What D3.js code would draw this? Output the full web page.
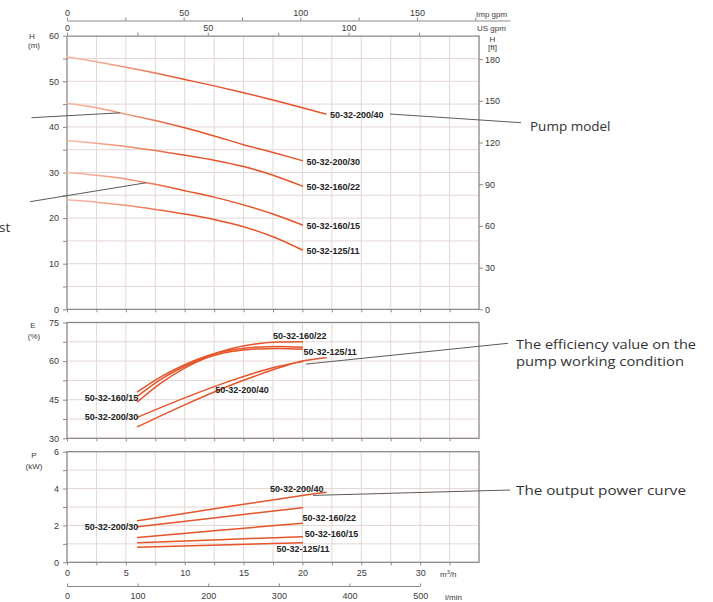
<!DOCTYPE html>
<html><head><meta charset="utf-8">
<script src="https://cdn.jsdelivr.net/npm/d3@7"></script>
<style>
body{margin:0;background:#fff}
svg{display:block}
.tk text{font-family:"Liberation Sans",Arial,sans-serif;font-size:9px;fill:#3a3a3a}
.lbl{font-family:"Liberation Sans",Arial,sans-serif;font-size:9px;font-weight:bold;fill:#222}
.note{font-family:"Open Sans",sans-serif;font-size:13.5px;fill:#333}
.unit{font-family:"Liberation Sans",Arial,sans-serif;font-size:8px;fill:#3a3a3a}
</style>
</head><body>
<svg id="c" width="713" height="602"></svg>
<script>
// ---------- data ----------
const models = ["50-32-200/40", "50-32-200/30", "50-32-160/22", "50-32-160/15", "50-32-125/11"];

// head H (m) against flow Q (m³/h)
const headQ        = [0, 2.5, 5, 7.5, 10, 12.5, 15, 17.5, 20];
const headQ_200_40 = [0, 2.5, 5, 7.5, 10, 12.5, 15, 17.5, 20, 22];
const head_200_40  = [55.4, 54.3, 53.1, 51.8, 50.4, 49.0, 47.5, 45.9, 44.2, 42.8];
const head_200_30  = [45.2, 44.2, 42.8, 41.4, 39.8, 38.0, 36.1, 34.4, 32.6];
const head_160_22  = [37.0, 36.4, 35.7, 34.8, 33.8, 32.7, 31.3, 29.4, 27.0];
const head_160_15  = [30.0, 29.4, 28.6, 27.4, 26.0, 24.6, 22.9, 20.9, 18.5];
const head_125_11  = [24.0, 23.5, 22.8, 21.9, 20.9, 19.7, 18.1, 15.9, 13.0];

// efficiency E (%)
const effQ        = [6, 8, 10, 12, 14, 16, 18, 20];
const effQ_200_40 = [6, 8, 10, 12, 14, 16, 18, 20, 22];
const eff_200_40  = [34.5, 38.8, 43.0, 47.0, 50.8, 54.2, 57.4, 60.0, 61.3];
const eff_200_30  = [38.2, 42.0, 45.7, 49.2, 52.5, 55.5, 58.0, 59.8];
const eff_160_22  = [46.4, 53.0, 58.0, 62.0, 64.9, 66.6, 67.4, 67.5];
const eff_160_15  = [48.1, 54.0, 58.6, 62.2, 64.3, 65.4, 65.7, 65.4];
const eff_125_11  = [44.2, 51.5, 57.3, 61.5, 63.7, 64.7, 64.9, 64.6];

// output power P (kW)
const powQ        = [6, 13, 20];
const powQ_200_40 = [6, 14, 21, 22];
const pow_200_40  = [2.26, 3.05, 3.72, 3.80];
const pow_200_30  = [1.93, 2.45, 2.96];
const pow_160_22  = [1.34, 1.74, 2.12];
const pow_160_15  = [1.06, 1.23, 1.39];
const pow_125_11  = [0.81, 0.94, 1.06];

// axis ticks
const flowTicks   = [0, 5, 10, 15, 20, 25, 30];
const headTicks   = [0, 10, 20, 30, 40, 50, 60];
const headFtTicks = [0, 30, 60, 90, 120, 150, 180];
const effTicks    = [30, 45, 60, 75];
const powTicks    = [0, 2, 4, 6];
const lminTicks   = [0, 100, 200, 300, 400, 500];
const usGpmTicks  = [0, 50, 100];
const impGpmTicks = [0, 50, 100, 150];

// ---------- layout ----------
const svg = d3.select("#c");
const x    = d3.scaleLinear().domain([0, 35]).range([67, 479]);
const yH   = d3.scaleLinear().domain([0, 60]).range([309.3, 35.7]);
const yFt  = d3.scaleLinear().domain([0, 60 * 3.28084]).range([309.3, 35.7]);
const yE   = d3.scaleLinear().domain([30, 75]).range([438.3, 322.5]);
const yP   = d3.scaleLinear().domain([0, 6]).range([562.3, 451.7]);
const xL   = d3.scaleLinear().domain([0, 35 * 1000 / 60]).range([67, 479]);
const xUS  = d3.scaleLinear().domain([0, 146.3]).range([67, 479]);
const xImp = d3.scaleLinear().domain([0, 189.9]).range([67, 510]);

const CURVE = "#e6542a", GRID = "#e4d7d3", FRAME = "#8f8784";

// gradient: the head curves fade in from the left
const defs = svg.append("defs");
const grad = defs.append("linearGradient").attr("id", "hg")
  .attr("gradientUnits", "userSpaceOnUse")
  .attr("x1", x(0)).attr("x2", x(10)).attr("y1", 0).attr("y2", 0);
grad.append("stop").attr("offset", 0).attr("stop-color", "#f6bba8");
grad.append("stop").attr("offset", 0.55).attr("stop-color", "#f09070");
grad.append("stop").attr("offset", 1).attr("stop-color", CURVE);

function grid(y, yStep) {
  const g = svg.append("g");
  const [y0, y1] = y.domain();
  g.selectAll(".v").data(d3.range(2.5, 35, 2.5)).join("line")
    .attr("x1", d => x(d)).attr("x2", d => x(d))
    .attr("y1", y(y0)).attr("y2", y(y1))
    .attr("stroke", GRID).attr("stroke-width", 1);
  g.selectAll(".h").data(d3.range(y0 + yStep, y1 - 1e-6, yStep)).join("line")
    .attr("x1", x(0)).attr("x2", x(35))
    .attr("y1", d => y(d)).attr("y2", d => y(d))
    .attr("stroke", GRID).attr("stroke-width", 1);
}
function frame(y) {
  const [y0, y1] = y.domain();
  svg.append("rect").attr("x", x(0)).attr("y", y(y1))
    .attr("width", x(35) - x(0)).attr("height", y(y0) - y(y1))
    .attr("fill", "none").attr("stroke", FRAME).attr("stroke-width", 1.3);
}
function styleAxis(g) {
  g.attr("class", "tk");
  g.select(".domain").attr("stroke", FRAME);
  g.selectAll(".tick line").attr("stroke", FRAME);
  return g;
}
// left axis: labelled ticks plus minor ticks
function leftAxis(y, labels, minorStep) {
  const [y0, y1] = y.domain();
  styleAxis(svg.append("g").attr("transform", `translate(${x(0)},0)`)
    .call(d3.axisLeft(y).tickValues(d3.range(y0, y1 + 1e-6, minorStep)).tickSize(4)
      .tickFormat(d => labels.includes(+d.toFixed(3)) ? d : ""))
    .call(g => g.select(".domain").remove())
    .call(g => g.selectAll("text").attr("x", -8)));
}
function bottomTicks(y) {
  styleAxis(svg.append("g").attr("transform", `translate(0,${y.range()[0]})`)
    .call(d3.axisBottom(x).tickValues(d3.range(0, 35, 2.5)).tickSize(3).tickFormat(""))
    .call(g => g.select(".domain").remove()));
}
const interp = (qs, vs) => q => {
  const i = Math.max(1, Math.min(qs.length - 1, d3.bisectLeft(qs, q)));
  const t = (q - qs[i - 1]) / (qs[i] - qs[i - 1]);
  return vs[i - 1] + t * (vs[i] - vs[i - 1]);
};
function drawCurves(y, series, stroke, curve) {
  const line = d3.line().x(d => x(d[0])).y(d => y(d[1])).curve(curve);
  svg.append("g").selectAll("path").data(series).join("path")
    .attr("d", s => line(d3.zip(s.q, s.v)))
    .attr("fill", "none").attr("stroke", stroke)
    .attr("stroke-width", 1.5).attr("stroke-linecap", "round");
}
function labels(y, items) {
  svg.append("g").selectAll("text").data(items).join("text")
    .attr("class", "lbl").attr("x", d => x(d.q)).attr("y", d => y(d.v))
    .attr("dy", "0.35em").text(d => d.t);
}
function leader(x1, y1, x2, y2) {
  svg.append("line").attr("x1", x1).attr("y1", y1).attr("x2", x2).attr("y2", y2)
    .attr("stroke", "#5e5a58").attr("stroke-width", 1);
}
function note(xp, yp, text, width) {
  const t = svg.append("text").attr("class", "note").attr("x", xp).attr("y", yp)
    .attr("dy", "0.35em").text(text);
  if (width) t.attr("textLength", width).attr("lengthAdjust", "spacingAndGlyphs");
}

// ---------- head chart ----------
grid(yH, 5);
svg.append("line").attr("x1", x(0)).attr("x2", x(0)).attr("y1", yH(0)).attr("y2", yH(60)).attr("stroke", FRAME).attr("stroke-width", 1.3);
svg.append("line").attr("x1", x(35)).attr("x2", x(35)).attr("y1", yH(0)).attr("y2", yH(60)).attr("stroke", FRAME).attr("stroke-width", 1.3);
svg.append("line").attr("x1", x(0)).attr("x2", x(35)).attr("y1", yH(0)).attr("y2", yH(0)).attr("stroke", FRAME).attr("stroke-width", 1.3);
leftAxis(yH, headTicks, 5);
styleAxis(svg.append("g").attr("transform", `translate(${x(35)},0)`)
  .call(d3.axisRight(yFt).tickValues(headFtTicks).tickSize(4))
  .call(g => g.select(".domain").remove())
  .call(g => g.selectAll("text").attr("x", 6)));
bottomTicks(yH);

// US gpm axis on the top edge, Imp gpm above it
styleAxis(svg.append("g").attr("transform", `translate(0,${yH(60)})`)
  .call(d3.axisTop(xUS).tickValues(d3.range(0, 146, 25)).tickSizeInner(3).tickSizeOuter(0)
    .tickFormat(d => usGpmTicks.includes(d) ? d : ""))
  .call(g => g.select(".domain").attr("stroke-width", 1.3))
  .call(g => g.selectAll("text").attr("y", -5)));
styleAxis(svg.append("g").attr("transform", "translate(0,20.5)")
  .call(d3.axisTop(xImp).tickValues(d3.range(0, 176, 25)).tickSizeInner(3).tickSizeOuter(0)
    .tickFormat(d => impGpmTicks.includes(d) ? d : ""))
  .call(g => g.selectAll("text").attr("y", -5)));
svg.append("text").attr("class", "unit").attr("x", 476).attr("y", 16.5).text("Imp gpm");
svg.append("text").attr("class", "unit").attr("x", 477).attr("y", 31).text("US gpm");
svg.append("text").attr("class", "unit").attr("x", 492.5).attr("y", 42).attr("text-anchor", "middle").text("H");
svg.append("text").attr("class", "unit").attr("x", 492.5).attr("y", 49.5).attr("text-anchor", "middle").text("[ft]");
svg.append("text").attr("class", "unit").attr("x", 32).attr("y", 38.5).attr("text-anchor", "middle").text("H");
svg.append("text").attr("class", "unit").attr("x", 34).attr("y", 48).attr("text-anchor", "middle").text("(m)");

const headSeries = [
  {q: headQ_200_40, v: head_200_40}, {q: headQ, v: head_200_30},
  {q: headQ, v: head_160_22}, {q: headQ, v: head_160_15}, {q: headQ, v: head_125_11}];
drawCurves(yH, headSeries, "url(#hg)", d3.curveMonotoneX);
labels(yH, headSeries.map((s, i) => ({
  q: s.q[s.q.length - 1] + 0.35, v: s.v[s.v.length - 1] - 0.25, t: models[i]})));

// ---------- efficiency chart ----------
grid(yE, 7.5);
frame(yE);
leftAxis(yE, effTicks, 7.5);
bottomTicks(yE);
svg.append("text").attr("class", "unit").attr("x", 33).attr("y", 327.5).attr("text-anchor", "middle").text("E");
svg.append("text").attr("class", "unit").attr("x", 34).attr("y", 339).attr("text-anchor", "middle").text("(%)");
const effSeries = [
  {q: effQ_200_40, v: eff_200_40}, {q: effQ, v: eff_200_30},
  {q: effQ, v: eff_160_22}, {q: effQ, v: eff_160_15}, {q: effQ, v: eff_125_11}];
drawCurves(yE, effSeries, CURVE, d3.curveMonotoneX);
labels(yE, [
  {q: 12.6, v: 48.8, t: models[0]}, {q: 1.5, v: 38.3, t: models[1]},
  {q: 17.5, v: 69.8, t: models[2]}, {q: 1.5, v: 45.7, t: models[3]},
  {q: 20.1, v: 63.5, t: models[4]}]);

// ---------- power chart ----------
grid(yP, 1);
frame(yP);
leftAxis(yP, powTicks, 1);
svg.append("text").attr("class", "unit").attr("x", 34).attr("y", 458).attr("text-anchor", "middle").text("P");
svg.append("text").attr("class", "unit").attr("x", 34).attr("y", 469).attr("text-anchor", "middle").text("(kW)");
styleAxis(svg.append("g").attr("transform", `translate(0,${yP(0)})`)
  .call(d3.axisBottom(x).tickValues(d3.range(0, 35, 2.5)).tickSize(3)
    .tickFormat(d => flowTicks.includes(d) ? d : ""))
  .call(g => g.select(".domain").remove())
  .call(g => g.selectAll("text").attr("y", 7)));
svg.append("text").attr("class", "unit").attr("x", 440).attr("y", 577).html("m<tspan dy='-3' font-size='5.5'>3</tspan><tspan dy='3'>/h</tspan>");
styleAxis(svg.append("g").attr("transform", "translate(0,586.5)")
  .call(d3.axisBottom(xL).tickValues(lminTicks).tickSizeInner(3).tickSizeOuter(0))
  .call(g => g.select(".domain").attr("d", `M${xL(0)},0H${xL(500)}`))
  .call(g => g.selectAll(".tick line").attr("y1", -3).attr("y2", 0))
  .call(g => g.selectAll("text").attr("y", 6)));
svg.append("text").attr("class", "unit").attr("x", 445).attr("y", 600).text("l/min");

const powSeries = [
  {q: powQ_200_40, v: pow_200_40}, {q: powQ, v: pow_200_30},
  {q: powQ, v: pow_160_22}, {q: powQ, v: pow_160_15}, {q: powQ, v: pow_125_11}];
drawCurves(yP, powSeries, CURVE, d3.curveLinear);
labels(yP, [
  {q: 17.25, v: 4.0, t: models[0]}, {q: 1.5, v: 1.92, t: models[1]},
  {q: 20.0, v: 2.4, t: models[2]}, {q: 20.2, v: 1.54, t: models[3]},
  {q: 17.8, v: 0.75, t: models[4]}]);

// ---------- callouts ----------
leader(31.5, 117.7, x(4.5), yH(interp(headQ, head_200_30)(4.5)));
leader(30, 201.7, x(6.75), yH(interp(headQ, head_160_15)(6.75)));
leader(390, 114, 521, 122.7);
note(530, 126, "Pump model");
leader(x(20.3), yE(interp(effQ, eff_200_30)(20)) + 2.5, 508, 343.3);
note(516, 344, "The efficiency value on the", 180);
note(516, 361, "pump working condition", 168);
leader(x(20.9), yP(interp(powQ_200_40, pow_200_40)(20.9)) + 1.5, 510, 490);
note(516, 490, "The output power curve", 170);
svg.append("text").attr("class", "note").attr("x", -1).attr("y", 227).attr("dy", "0.35em").text("st");
</script>
</body></html>
